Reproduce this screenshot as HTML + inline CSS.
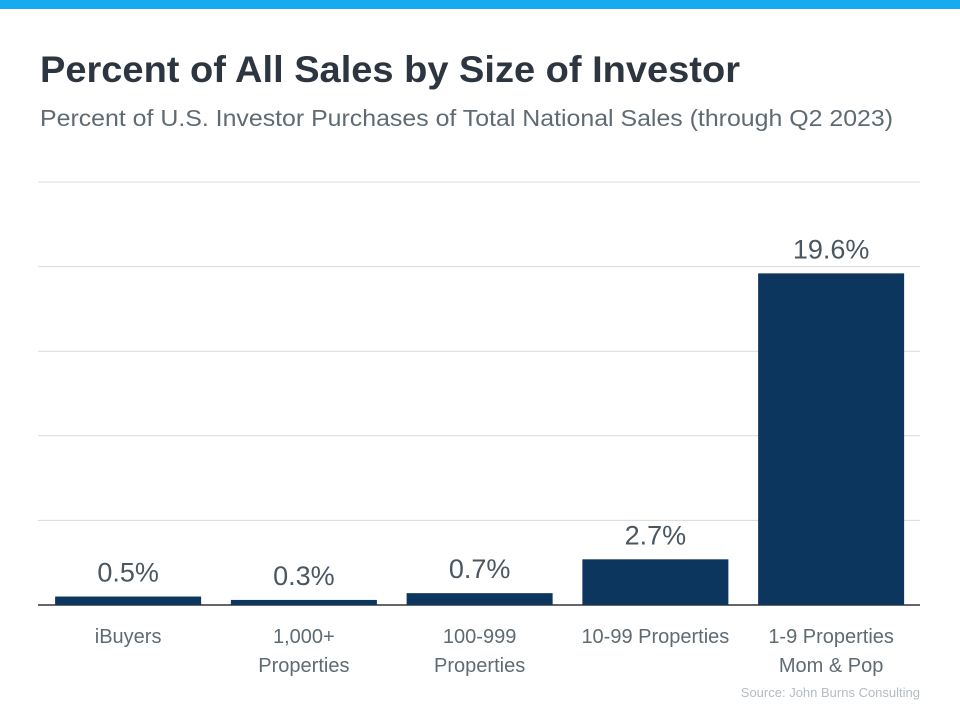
<!DOCTYPE html>
<html><head><meta charset="utf-8"><style>
html,body{margin:0;padding:0;background:#fff}
svg{display:block;font-family:"Liberation Sans",sans-serif}
</style></head><body>
<svg width="960" height="720" viewBox="0 0 960 720">
<rect x="0" y="0" width="960" height="9" fill="#16aaee"/>
<text x="40" y="82" font-size="37" font-weight="bold" fill="#2d3640" textLength="700" lengthAdjust="spacingAndGlyphs">Percent of All Sales by Size of Investor</text>
<text x="40" y="126" font-size="23" fill="#5f6b73" textLength="853" lengthAdjust="spacingAndGlyphs">Percent of U.S. Investor Purchases of Total National Sales (through Q2 2023)</text>
<g id="grid"></g>
<g id="bars"></g>
<text x="920" y="697" font-size="13" fill="#b5bcc2" text-anchor="end">Source: John Burns Consulting</text>
</svg>
<script>
const categories = [["iBuyers"],["1,000+","Properties"],["100-999","Properties"],["10-99 Properties"],["1-9 Properties","Mom & Pop"]];
const values = [0.5, 0.3, 0.7, 2.7, 19.6];
const valueLabels = ["0.5%","0.3%","0.7%","2.7%","19.6%"];
const gridTicks = [0, 5, 10, 15, 20, 25];
const NS="http://www.w3.org/2000/svg";
const x0=38, x1=920, y0=605, yMax=25, yTop=182;
const bx0=40.25, band=175.75, bw=146;
const y = v => y0 - (v/yMax)*(y0-yTop);
const grid=document.getElementById('grid'), bars=document.getElementById('bars');
gridTicks.forEach(t=>{
  const l=document.createElementNS(NS,'line');
  l.setAttribute('x1',x0);l.setAttribute('x2',x1);
  l.setAttribute('y1',y(t));l.setAttribute('y2',y(t));
  l.setAttribute('stroke',t===0?'#333':'#d9d9d9');l.setAttribute('stroke-width',t===0?1.5:1);
  
  
  grid.appendChild(l);
});
values.forEach((v,i)=>{
  const cx=bx0+band*(i+0.5);
  const r=document.createElementNS(NS,'rect');
  r.setAttribute('x',cx-bw/2);r.setAttribute('width',bw);
  r.setAttribute('y',y(v));r.setAttribute('height',y0-y(v));
  r.setAttribute('fill','#0c365e');
  
  
  bars.appendChild(r);
  const t=document.createElementNS(NS,'text');
  t.setAttribute('x',cx);t.setAttribute('y',y(v)-15);
  t.setAttribute('text-anchor','middle');t.setAttribute('font-size','27');t.setAttribute('fill','#4a5660');
  t.textContent=valueLabels[i];
  
  
  bars.appendChild(t);
  categories[i].forEach((line,j)=>{
    const c=document.createElementNS(NS,'text');
    c.setAttribute('x',cx);c.setAttribute('y',643+j*29);
    c.setAttribute('text-anchor','middle');c.setAttribute('font-size','20');c.setAttribute('fill','#5f6b73');
    c.textContent=line;
    
    
    bars.appendChild(c);
  });
});
</script>
</body></html>
